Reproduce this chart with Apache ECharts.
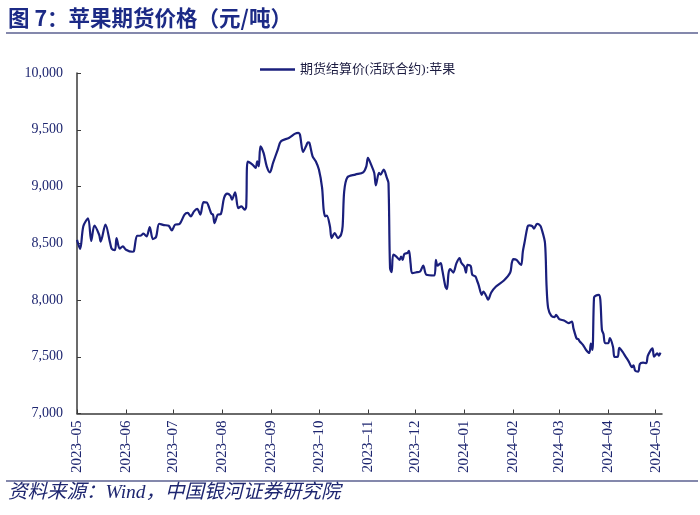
<!DOCTYPE html>
<html>
<head>
<meta charset="utf-8">
<script src="https://cdn.jsdelivr.net/npm/echarts@6/dist/echarts.min.js"></script>
<style>
html,body{margin:0;padding:0;background:#fff;}
#c{width:700px;height:515px;}
</style>
</head>
<body>
<div id="c"></div>
<script>
const titleText = '图 7：苹果期货价格（元/吨）';
const sourceText = '资料来源：Wind，中国银河证券研究院';
const seriesName = '期货结算价(活跃合约):苹果';
const yTicks = [7000, 7500, 8000, 8500, 9000, 9500, 10000];

const dates = [
'2023-05-01','2023-05-03','2023-05-05','2023-05-08','2023-05-10','2023-05-12','2023-05-15','2023-05-16','2023-05-19','2023-05-22',
'2023-05-23','2023-05-25','2023-05-26','2023-05-28','2023-05-30','2023-06-01','2023-06-05','2023-06-06','2023-06-08','2023-06-10',
'2023-06-12','2023-06-14','2023-06-16','2023-06-18','2023-06-20','2023-06-22','2023-06-25','2023-06-28','2023-06-30','2023-07-02',
'2023-07-05','2023-07-08','2023-07-10','2023-07-12','2023-07-14','2023-07-16','2023-07-18','2023-07-20','2023-07-22','2023-07-24',
'2023-07-25','2023-07-26','2023-07-27','2023-07-29','2023-07-31','2023-08-02','2023-08-04','2023-08-06','2023-08-07','2023-08-09',
'2023-08-11','2023-08-13','2023-08-15','2023-08-16','2023-08-17','2023-08-20','2023-08-22','2023-08-23','2023-08-24','2023-08-25',
'2023-08-27','2023-08-29','2023-08-31','2023-09-02','2023-09-05','2023-09-07','2023-09-12','2023-09-16','2023-09-18','2023-09-19',
'2023-09-21','2023-09-23','2023-09-24','2023-09-25','2023-09-27','2023-09-29','2023-10-01','2023-10-03','2023-10-04','2023-10-05',
'2023-10-06','2023-10-08','2023-10-09','2023-10-11','2023-10-13','2023-10-15','2023-10-16','2023-10-17','2023-10-19','2023-10-24',
'2023-10-29','2023-10-31','2023-11-01','2023-11-03','2023-11-05','2023-11-06','2023-11-08','2023-11-09','2023-11-11','2023-11-13',
'2023-11-14','2023-11-15','2023-11-16','2023-11-17','2023-11-19','2023-11-21','2023-11-22','2023-11-23','2023-11-24','2023-11-26',
'2023-11-27','2023-11-28','2023-11-29','2023-12-02','2023-12-04','2023-12-06','2023-12-08','2023-12-13','2023-12-14','2023-12-15',
'2023-12-17','2023-12-18','2023-12-20','2023-12-21','2023-12-22','2023-12-23','2023-12-25','2023-12-27','2023-12-29','2023-12-30',
'2024-01-01','2024-01-02','2024-01-03','2024-01-05','2024-01-06','2024-01-08','2024-01-09','2024-01-10','2024-01-12','2024-01-13',
'2024-01-15','2024-01-16','2024-01-18','2024-01-21','2024-01-26','2024-01-30','2024-01-31','2024-02-01','2024-02-03','2024-02-05',
'2024-02-06','2024-02-07','2024-02-08','2024-02-10','2024-02-11','2024-02-13','2024-02-14','2024-02-16','2024-02-18','2024-02-19',
'2024-02-21','2024-02-22','2024-02-23','2024-02-25','2024-02-27','2024-02-28','2024-03-01','2024-03-04','2024-03-07','2024-03-09',
'2024-03-10','2024-03-12','2024-03-13','2024-03-14','2024-03-16','2024-03-18','2024-03-20','2024-03-21','2024-03-22','2024-03-23',
'2024-03-24','2024-03-26','2024-03-27','2024-03-28','2024-03-29','2024-03-30','2024-04-01','2024-04-02','2024-04-04','2024-04-05',
'2024-04-07','2024-04-08','2024-04-10','2024-04-12','2024-04-14','2024-04-16','2024-04-17','2024-04-18','2024-04-20','2024-04-21',
'2024-04-23','2024-04-25','2024-04-26','2024-04-28','2024-04-29','2024-04-30','2024-05-02','2024-05-03','2024-05-04'
];

const prices = [
8530,8450,8650,8720,8520,8655,8575,8515,8665,8500,
8450,8440,8545,8452,8472,8443,8425,8430,8566,8566,
8584,8560,8643,8537,8555,8672,8660,8654,8613,8663,
8672,8752,8767,8737,8781,8802,8752,8862,8860,8796,
8760,8752,8678,8752,8758,8899,8937,8919,8884,8949,
8810,8825,8796,8819,9220,9193,9164,9222,9178,9354,
9296,9178,9125,9208,9325,9398,9428,9466,9472,9457,
9305,9360,9389,9384,9266,9222,9149,8990,8796,8737,
8743,8648,8546,8590,8546,8575,8648,8957,9081,9105,
9125,9178,9252,9193,9120,9010,9120,9105,9149,9075,
9031,8280,8245,8399,8383,8354,8383,8354,8405,8414,
8434,8320,8237,8245,8251,8304,8222,8216,8354,8302,
8325,8266,8119,8096,8237,8272,8242,8325,8369,8330,
8295,8242,8310,8300,8222,8207,8172,8134,8046,8075,
8031,8002,8066,8119,8172,8242,8325,8360,8354,8320,
8310,8428,8502,8648,8657,8650,8628,8672,8655,8619,
8502,8119,7928,7860,7849,7869,7831,7819,7796,7810,
7750,7660,7655,7634,7604,7560,7534,7615,7560,8020,
8037,8046,8002,7737,7700,7619,7619,7664,7589,7498,
7500,7578,7545,7501,7457,7408,7425,7378,7369,7437,
7448,7443,7507,7560,7575,7501,7530,7510,7537
];

const xMin = '2023-05-01';
const xMax = '2024-05-05';

const navy = '#1a1f7c';
const labelColor = '#1e2670';
const ruleColor = '#5b6091';

const chart = echarts.init(document.getElementById('c'), null, {renderer: 'canvas'});
const seriesData = dates.map((d, i) => [d, prices[i]]);

function fmtThousands(v) {
  return String(v).replace(/\B(?=(\d{3})+(?!\d))/g, ',');
}

chart.setOption({
  backgroundColor: '#ffffff',
  animation: false,
  graphic: [
    {type: 'text', left: 8, top: 7, style: {text: titleText, font: 'bold 21.5px "Noto Sans CJK SC", sans-serif', fill: '#1c2a86'}},
    {type: 'line', shape: {x1: 6, y1: 33, x2: 698, y2: 33}, style: {stroke: ruleColor, lineWidth: 1.5}},
    {type: 'line', shape: {x1: 6, y1: 481, x2: 698, y2: 481}, style: {stroke: ruleColor, lineWidth: 1.5}},
    {type: 'text', left: 8, top: 483, style: {text: sourceText, font: 'italic 19.5px "Liberation Serif", "Noto Sans CJK SC", serif', fill: '#1e2670'}}
  ],
  legend: {
    top: 58,
    left: 255,
    icon: 'rect',
    itemWidth: 35,
    itemHeight: 2.5,
    itemGap: 10,
    textStyle: {fontFamily: '"Liberation Serif", "Noto Sans CJK SC", serif', fontSize: 13, color: '#1b1b40'},
    data: [seriesName]
  },
  grid: {left: 77, right: 38, top: 73, bottom: 101.5, containLabel: false},
  xAxis: {
    type: 'time',
    min: xMin,
    max: xMax,
    splitNumber: 13,
    minInterval: 28 * 86400000,
    maxInterval: 31 * 86400000,
    axisLine: {show: true, lineStyle: {color: '#3a3a3a', width: 1.5}},
    axisTick: {show: true, inside: true, length: 4, lineStyle: {color: '#3a3a3a'}},
    splitLine: {show: false},
    axisLabel: {
      rotate: 90,
      margin: 7,
      color: labelColor,
      fontFamily: '"Liberation Serif", serif',
      fontSize: 15,
      showMaxLabel: false,
      formatter: function (v) {
        const d = new Date(v);
        const m = d.getMonth() + 1;
        return d.getFullYear() + '\u2013' + (m < 10 ? '0' + m : m);
      }
    }
  },
  yAxis: {
    type: 'value',
    min: yTicks[0],
    max: yTicks[yTicks.length - 1],
    interval: 500,
    axisLine: {show: true, lineStyle: {color: '#3a3a3a', width: 1.5}},
    axisTick: {show: true, inside: true, length: 4, lineStyle: {color: '#3a3a3a'}},
    splitLine: {show: false},
    axisLabel: {
      margin: 14,
      color: labelColor,
      fontFamily: '"Liberation Serif", serif',
      fontSize: 14,
      formatter: fmtThousands
    }
  },
  series: [{
    name: seriesName,
    type: 'line',
    data: seriesData,
    showSymbol: false,
    smooth: 0.3,
    lineStyle: {color: navy, width: 2.2},
    itemStyle: {color: navy}
  }]
});
</script>
</body>
</html>
